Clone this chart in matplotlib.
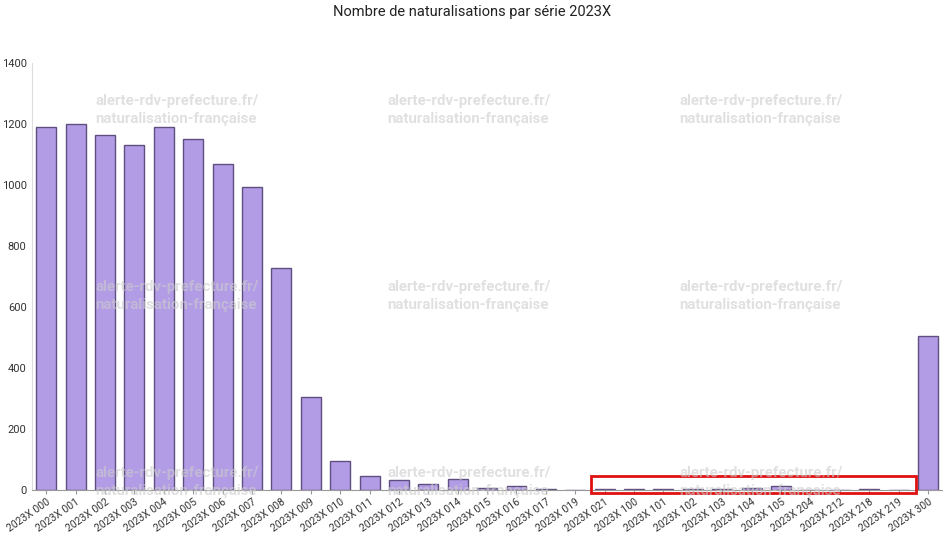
import numpy as np
import matplotlib.pyplot as plt
from matplotlib.patches import Rectangle

plt.rcParams['font.family'] = ['Roboto', 'DejaVu Sans']

# ---------------- data ----------------
series = ['2023X 000', '2023X 001', '2023X 002', '2023X 003', '2023X 004', '2023X 005',
          '2023X 006', '2023X 007', '2023X 008', '2023X 009', '2023X 010', '2023X 011',
          '2023X 012', '2023X 013', '2023X 014', '2023X 015', '2023X 016', '2023X 017',
          '2023X 019', '2023X 021', '2023X 100', '2023X 101', '2023X 102', '2023X 103',
          '2023X 104', '2023X 105', '2023X 204', '2023X 212', '2023X 218', '2023X 219',
          '2023X 300']
counts = [1190, 1201, 1164, 1131, 1190, 1151, 1069, 993, 728, 305, 95, 46,
          33, 20, 36, 5, 14, 2, 1, 2, 4, 2, 4, 3, 5, 12, 1, 1, 4, 1, 505]
yticks = [0, 200, 400, 600, 800, 1000, 1200, 1400]
watermark = 'alerte-rdv-prefecture.fr/\nnaturalisation-française'

# ---------------- figure ----------------
fig = plt.figure(figsize=(9.44, 5.34), dpi=100)
ax = fig.add_axes([0.034, 0.0824, 0.964, 0.7996])

x = np.arange(len(series))
ax.bar(x, counts, width=0.68, color='#b39ce6', edgecolor='#5e4f80', linewidth=1.0, zorder=2)

ax.set_xlim(-0.48, len(series) - 0.52)
ax.set_ylim(0, 1400)
ax.set_yticks(yticks)
ax.set_yticklabels([str(v) for v in yticks], fontsize=8, color='#333333')
ax.set_xticks(x)
ax.set_xticklabels(series, rotation=35, ha='right', rotation_mode='anchor', fontsize=7.5, color='#333333')
ax.tick_params(axis='y', length=0, pad=4)
ax.tick_params(axis='x', length=3, color='#999999', pad=2)

for s in ['top', 'right']:
    ax.spines[s].set_visible(False)
ax.spines['left'].set_color('#dddddd')
ax.spines['bottom'].set_color('#999999')

fig.text(0.5, 1 - 12 / 534, 'Nombre de naturalisations par série 2023X', ha='center', va='center',
         fontsize=10.5, color='#222222')

# -------- watermarks --------
for wx in [95, 387, 679]:
    for wy in [110, 296, 482]:
        fig.text(wx / 944, 1 - wy / 534, watermark, ha='left', va='center', fontsize=10.8,
                 fontweight='bold', color='#cccccc', alpha=0.6, linespacing=1.3, zorder=5)

# -------- highlight box --------
ax.add_patch(Rectangle((18.55, -9), 11.05, 56, fill=False, edgecolor='#e01010',
                       linewidth=2, clip_on=False, zorder=6))

plt.savefig('out.png', dpi=100)
